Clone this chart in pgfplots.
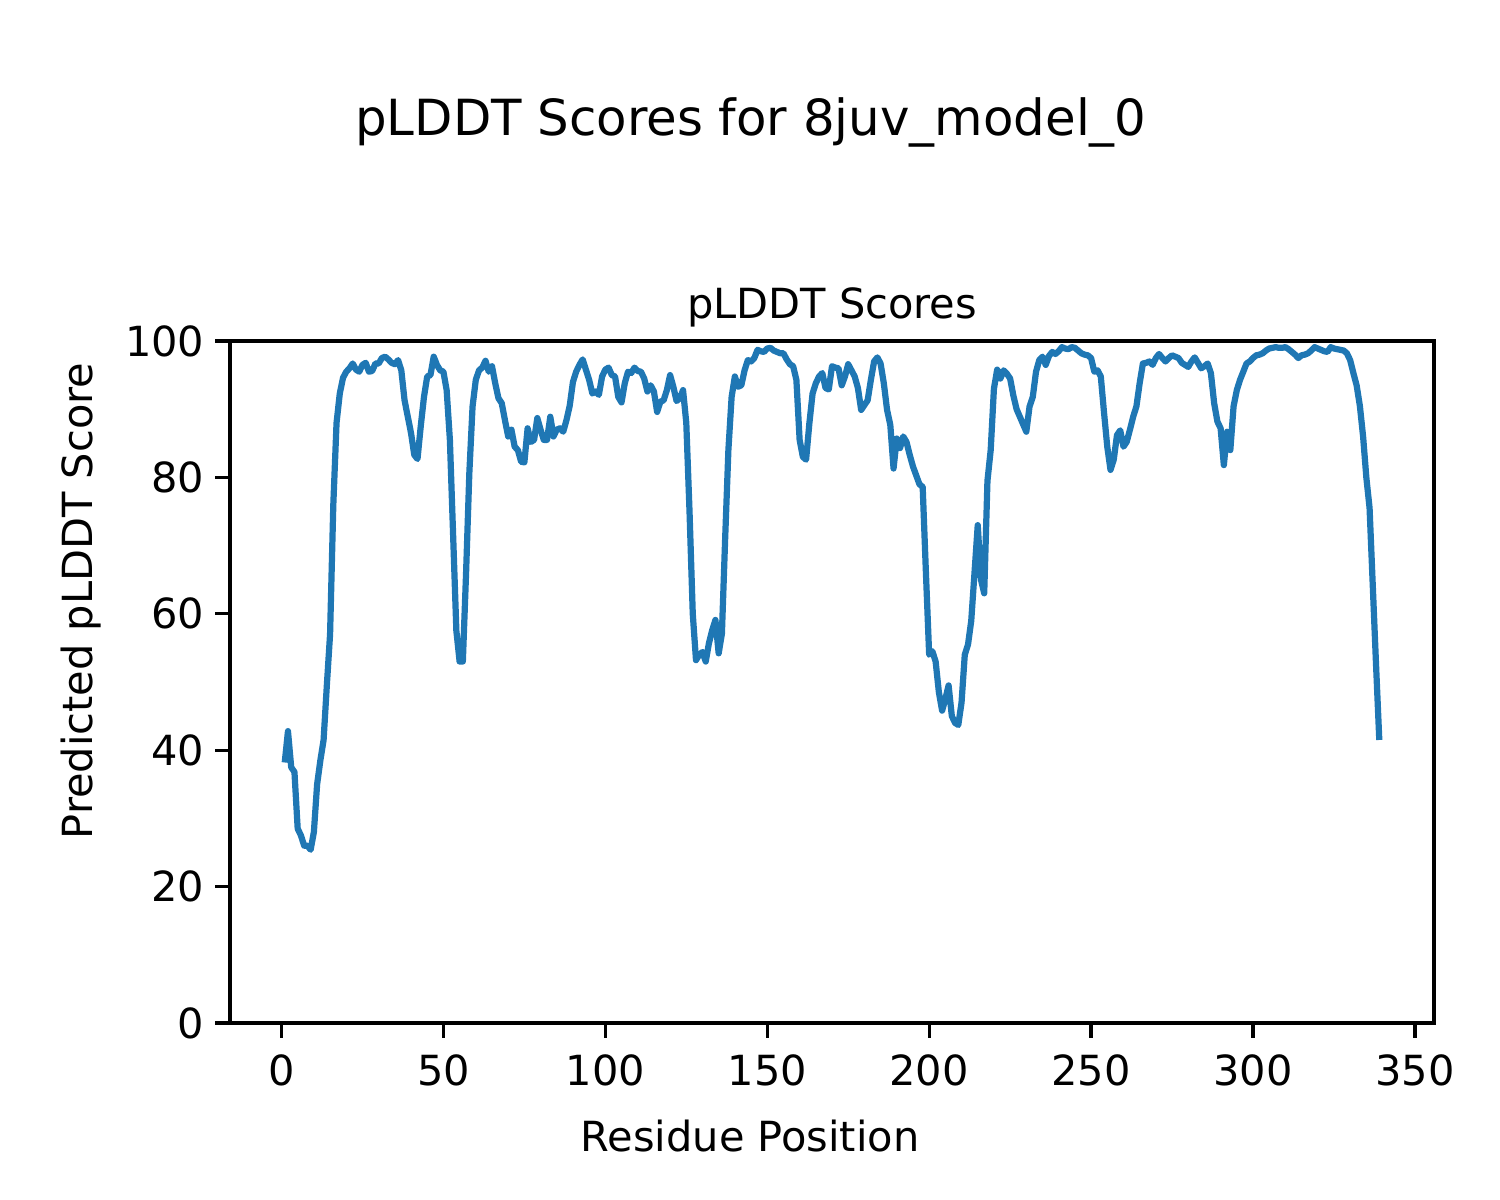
\documentclass[border=0pt]{standalone}
\usepackage{fontspec}
\setmainfont{DejaVu Sans}
\usepackage{pgfplots}
\usepackage{pgfplotstable}
\pgfplotsset{compat=1.18}
\definecolor{mplblue}{HTML}{1F77B4}
\pgfplotstableread{
x y
1 38.2
2 42.8
3 37.5
4 36.8
5 28.5
6 27.5
7 26
8 26
9 25.4
10 28
11 35
12 38.5
13 41.5
14 49.5
15 57
16 76
17 88
18 92.3
19 94.6
20 95.5
21 96
22 96.7
23 95.8
24 95.5
25 96.5
26 96.8
27 95.5
28 95.6
29 96.7
30 96.7
31 97.5
32 97.7
33 97.3
34 96.8
35 96.6
36 97.2
37 95.7
38 91.3
39 88.9
40 86.5
41 83.3
42 82.7
43 87.5
44 91.8
45 94.8
46 95
47 97.7
48 96.5
49 95.7
50 95.5
51 92.8
52 85.5
53 71.5
54 57.5
55 53
56 53
57 66
58 80.6
59 90.4
60 94.3
61 95.7
62 96.1
63 97.1
64 95.5
65 96.3
66 93.8
67 91.6
68 90.9
69 88.4
70 86
71 87
72 84.5
73 84
74 82.3
75 82.2
76 87.2
77 85.2
78 85.5
79 88.7
80 87
81 85.5
82 85.5
83 88.9
84 86
85 87
86 87.2
87 86.7
88 88.4
89 90.5
90 94
91 95.5
92 96.5
93 97.3
94 95.8
95 94.3
96 92.3
97 92.6
98 92.1
99 94.8
100 95.8
101 96.1
102 95
103 94.8
104 91.8
105 91
106 93.8
107 95.5
108 95.3
109 96.1
110 95.6
111 95.5
112 94.5
113 92.6
114 93.5
115 92.6
116 89.6
117 91.1
118 91.3
119 92.8
120 95
121 93.3
122 91.2
123 91.6
124 92.8
125 88
126 75
127 60
128 53.2
129 54
130 54.4
131 53
132 55.7
133 57.6
134 59.1
135 54.2
136 57.1
137 71
138 84
139 91.8
140 94.8
141 93.3
142 93.5
143 95.7
144 97.2
145 97
146 97.5
147 98.7
148 98.5
149 98.4
150 98.9
151 99
152 98.6
153 98.4
154 98.2
155 98.2
156 97.3
157 96.6
158 96.3
159 94.3
160 85.5
161 83
162 82.6
163 87.9
164 92.3
165 93.8
166 94.8
167 95.3
168 93.1
169 92.9
170 96.3
171 96.1
172 96
173 93.5
174 94.8
175 96.6
176 95.7
177 94.8
178 93.1
179 89.9
180 90.6
181 91.3
182 94.3
183 97
184 97.6
185 96.7
186 93.8
187 89.9
188 87.7
189 81.3
190 85.7
191 84.3
192 86
193 85.2
194 83.3
195 81.6
196 80.3
197 79
198 78.6
199 66
200 54
201 54.5
202 53
203 48.5
204 45.8
205 47.5
206 49.5
207 45
208 44
209 43.7
210 47
211 54
212 55.5
213 59
214 66
215 73
216 65
217 63
218 79.5
219 84
220 93
221 95.8
222 94.5
223 95.7
224 95.2
225 94.5
226 92
227 90
228 88.9
229 87.8
230 86.7
231 90.4
232 91.8
233 95.5
234 97.2
235 97.7
236 96.5
237 97.8
238 98.4
239 98.1
240 98.5
241 99.1
242 98.9
243 98.8
244 99.1
245 99
246 98.6
247 98.2
248 98
249 97.9
250 97.5
251 95.5
252 95.7
253 94.8
254 89.5
255 84.5
256 81.1
257 82.6
258 86.2
259 86.9
260 84.5
261 85.2
262 87
263 88.9
264 90.4
265 93.8
266 96.7
267 96.8
268 97
269 96.5
270 97.5
271 98.1
272 97.5
273 97
274 97.5
275 97.9
276 97.7
277 97.5
278 96.8
279 96.5
280 96.2
281 97
282 97.6
283 96.8
284 96
285 96.3
286 96.7
287 95.3
288 90.9
289 88.2
290 87.2
291 81.8
292 86.7
293 84
294 90.4
295 92.8
296 94.3
297 95.5
298 96.7
299 97
300 97.5
301 97.9
302 98
303 98.2
304 98.6
305 98.9
306 99
307 99.1
308 99
309 99
310 99.1
311 98.8
312 98.4
313 98
314 97.5
315 97.9
316 98
317 98.2
318 98.6
319 99.1
320 98.9
321 98.7
322 98.5
323 98.4
324 99.1
325 98.9
326 98.8
327 98.7
328 98.6
329 98.2
330 97.2
331 95.3
332 93.5
333 90.5
334 86
335 80
336 75.5
337 64
338 52.5
339 41.5
}\plddt
\begin{document}
\begin{tikzpicture}
\path[use as bounding box] (0,0) rectangle (5in,4in);
\node[anchor=base, font=\fontsize{12}{14}\selectfont, inner sep=0pt] at (2.503in,3.547in) {pLDDT Scores for 8juv\_model\_0};
\begin{axis}[
  at={(0.7667in,0.59in)}, anchor=south west,
  scale only axis, width=4.0133in, height=2.2733in,
  xmin=-15.9, xmax=355.9, ymin=0, ymax=100,
  xtick={0,50,...,350}, ytick={0,20,...,100},
  tick align=outside, tick pos=left,
  major tick length=3.5pt,
  every tick/.style={black, line width=0.8pt},
  axis line style={line width=0.8pt},
  /pgf/number format/assume math mode=true,
  /pgf/number format/1000 sep={},
  ticklabel style={font=\fontsize{10}{12}\selectfont, inner sep=0pt},
  xticklabel style={anchor=north, yshift=-4pt},
  yticklabel style={anchor=east, xshift=-2.5pt},
  every axis title shift=0pt,
  title={pLDDT Scores},
  title style={at={(axis description cs:0.5,1.0337)}, anchor=base, inner sep=0pt, yshift=0pt, font=\fontsize{10}{12}\selectfont},
  xlabel={Residue Position},
  ylabel={Predicted pLDDT Score},
  xlabel style={at={(axis description cs:0.4319,-0.1891)}, anchor=base, inner sep=0pt, font=\fontsize{10}{12}\selectfont},
  ylabel style={at={(axis description cs:-0.1146,0.6188)}, anchor=base, inner sep=0pt, font=\fontsize{10}{12}\selectfont},
]
\addplot[mplblue, line width=1.5pt, line join=round, mark=none] table[x=x, y=y] {\plddt};
\end{axis}
\end{tikzpicture}
\end{document}
